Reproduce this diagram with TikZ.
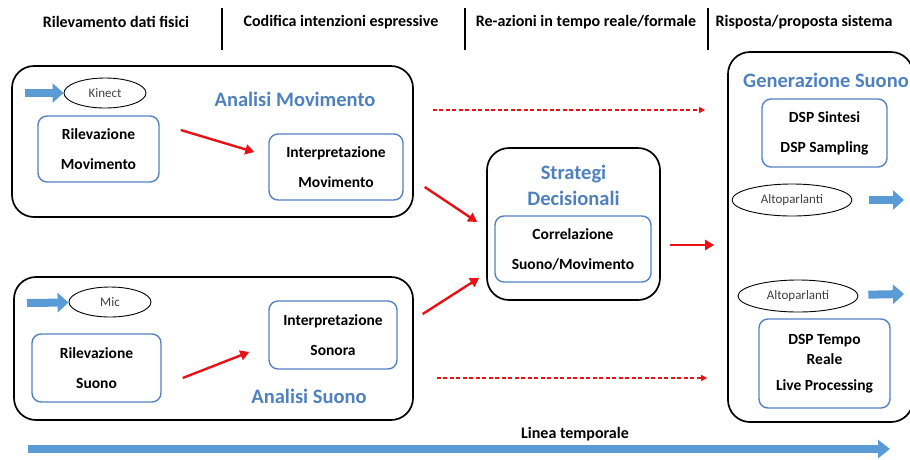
\documentclass[tikz,border=0pt]{standalone}
\usepackage{fontspec}
\setmainfont{Carlito}
\usetikzlibrary{arrows.meta,positioning,shapes.geometric}
\definecolor{ttlblue}{RGB}{79,129,189}
\definecolor{boxblue}{RGB}{84,128,196}
\definecolor{arrblue}{RGB}{91,155,213}
\definecolor{arrred}{RGB}{232,18,22}

\begin{document}
\begin{tikzpicture}[x=1pt,y=-1pt,
   hdr/.style={font=\fontsize{16}{18}\selectfont\bfseries},
   bar/.style={line width=2.2pt},
   group/.style={draw,line width=1.7pt,rounded corners=22pt},
   unit/.style={draw=boxblue,line width=1.4pt,rounded corners=9pt,align=center,
                font=\fontsize{15.5}{30}\selectfont\bfseries},
   ttl/.style={text=ttlblue,font=\fontsize{20.5}{26}\selectfont\bfseries,align=center},
   dev/.style={ellipse,draw,line width=0.9pt,inner sep=0pt,text=black!75,font=\fontsize{13}{15}\selectfont},
   blockarr/.style={arrblue,line width=8pt,-{Triangle[length=11pt,width=19pt]}},
   redarr/.style={arrred,line width=2.4pt,-{Triangle[length=9pt,width=10pt]}},
   dasharr/.style={arrred,line width=1.2pt,dash pattern=on 4pt off 2.5pt,-{Triangle[length=6pt,width=6pt]}}]
  \useasboundingbox (0,0) rectangle (910,459);
  % phases
  \node[hdr] (h1) at (116,22) {Rilevamento dati fisici};
  \node[hdr] (h2) at (341,22) {Codifica intenzioni espressive};
  \node[hdr] (h3) at (586,22) {Re-azioni in tempo reale/formale};
  \node[hdr] (h4) at (804,22) {Risposta/proposta sistema};
  \draw[bar] (222,8) -- (222,50);
  \draw[bar] (465,8) -- (465,50);
  \draw[bar] (708,8) -- (708,50);
  % analisi movimento
  \node[group,minimum width=401pt,minimum height=151pt] (anmov) at (212.5,141.5) {};
  \node[ttl] (anmovt) at (295,99) {Analisi Movimento};
  \node[dev,minimum width=82pt,minimum height=30pt] (kinect) at (105,93) {Kinect};
  \coordinate (kinin) at (25,93);
  \node[unit,minimum width=121pt,minimum height=66pt] (rilmov) at (98.5,149) {Rilevazione\\Movimento};
  \node[unit,minimum width=134pt,minimum height=66pt] (intmov) at (336,167) {Interpretazione\\Movimento};
  % analisi suono
  \node[group,minimum width=399pt,minimum height=143pt] (anson) at (213.5,348.5) {};
  \node[ttl] (ansont) at (309,396) {Analisi Suono};
  \node[dev,minimum width=82pt,minimum height=30pt] (mic) at (110,302) {Mic};
  \coordinate (micin) at (27,303);
  \node[unit,minimum width=129pt,minimum height=68pt] (rilsuo) at (96.5,368) {Rilevazione\\Suono};
  \node[unit,minimum width=128pt,minimum height=68pt] (intson) at (333,335) {Interpretazione\\Sonora};
  % strategie
  \node[group,minimum width=173pt,minimum height=152pt] (strat) at (573.5,224) {};
  \node[ttl] (stratt) at (573.5,185) {Strategi\\Decisionali};
  \node[unit,minimum width=156pt,minimum height=66pt] (corr) at (573,249) {Correlazione\\Suono/Movimento};
  % generazione suono
  \node[group,minimum width=185pt,minimum height=370pt] (gen) at (820.5,237) {};
  \node[ttl] (gent) at (826,80) {Generazione Suono};
  \node[unit,minimum width=125pt,minimum height=68pt] (dspsin) at (824.5,133) {DSP Sintesi\\DSP Sampling};
  \node[dev,minimum width=120pt,minimum height=32pt] (alt1) at (792,200) {Altoparlanti};
  \coordinate (alt1out) at (904,200);
  \node[dev,minimum width=120pt,minimum height=32pt] (alt2) at (798,296) {Altoparlanti};
  \coordinate (alt2out) at (904,294);
  \node[unit,minimum width=131pt,minimum height=89pt,font=\fontsize{15.5}{20}\selectfont\bfseries] (dsptr) at (824.5,363.5) {DSP Tempo\\Reale\\[6pt]Live Processing};
  % inputs and outputs
  \draw[blockarr] (kinin) -- (kinect);
  \draw[blockarr] (micin) -- (mic);
  \draw[blockarr,shorten <=17pt] (alt1) -- (alt1out);
  \draw[blockarr,shorten <=10pt] (alt2) -- (alt2out);
  % flow
  \draw[redarr] ([xshift=21pt,yshift=19pt]rilmov.east) -- ([xshift=-14pt,yshift=15pt]intmov.west);
  \draw[redarr] ([xshift=21pt,yshift=-10pt]rilsuo.east) -- ([xshift=-19pt,yshift=-17pt]intson.west);
  \draw[redarr] ([xshift=21pt,yshift=-20pt]intmov.east) -- ([xshift=-9pt,yshift=2pt]strat.west);
  \draw[redarr] ([xshift=25pt,yshift=21pt]intson.east) -- ([xshift=-7pt,yshift=23pt]strat.south west);
  \draw[redarr] ([xshift=9pt,yshift=-21pt]strat.east) -- ([xshift=-13pt,yshift=-8pt]gen.west);
  \draw[dasharr] ([xshift=19pt,yshift=31.5pt]anmov.east) -- ([xshift=-22pt,yshift=127pt]gen.west);
  \draw[dasharr] ([xshift=23pt,yshift=-29.5pt]anson.east) -- ([xshift=-20pt,yshift=-141pt]gen.west);
  % time line
  \node[hdr] (tlt) at (575,434) {Linea temporale};
  \coordinate (tl0) at (28,449);
  \coordinate (tl1) at (890,449);
  \draw[blockarr,-{Triangle[length=12pt,width=18pt]}] (tl0) -- (tl1);
\end{tikzpicture}
\end{document}
